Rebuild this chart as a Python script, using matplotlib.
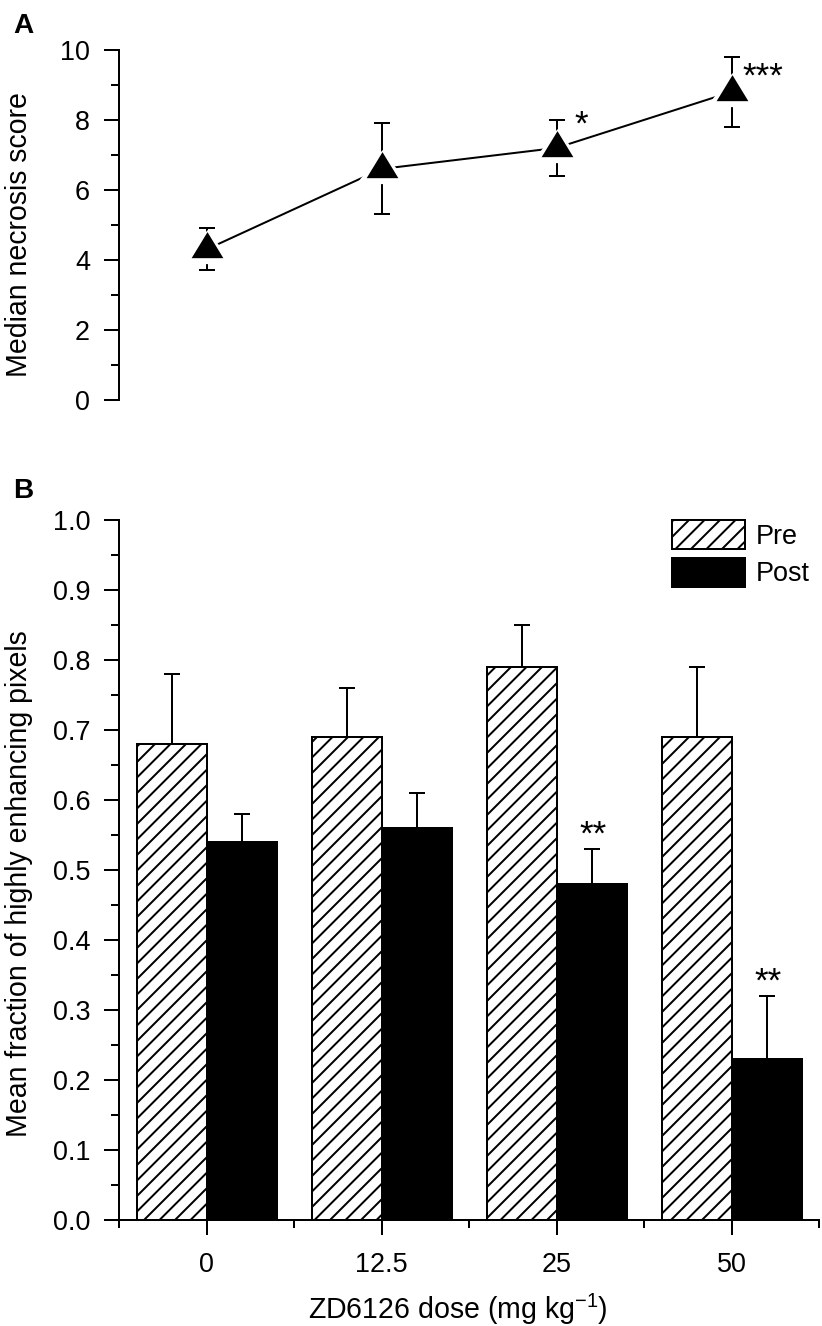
import numpy as np
import matplotlib.pyplot as plt
from matplotlib.ticker import MultipleLocator, FixedLocator, FormatStrFormatter

DPI = 93


def px(v):
    # pixels -> points at the chosen dpi
    return v * 72 / DPI


plt.rcParams['font.family'] = 'Liberation Sans'
plt.rcParams['mathtext.fontset'] = 'custom'
plt.rcParams['mathtext.rm'] = 'Liberation Sans'
plt.rcParams['mathtext.it'] = 'Liberation Sans:italic'
plt.rcParams['hatch.linewidth'] = px(2)

# data
doses = ['0', '12.5', '25', '50']

necrosis_median = [4.3, 6.6, 7.2, 8.8]
necrosis_low = [3.7, 5.3, 6.4, 7.8]
necrosis_high = [4.9, 7.9, 8.0, 9.8]

pre_mean = [0.68, 0.69, 0.79, 0.69]
pre_err = [0.10, 0.07, 0.06, 0.10]
post_mean = [0.54, 0.56, 0.48, 0.23]
post_err = [0.04, 0.05, 0.05, 0.09]

x = np.arange(len(doses))
lw = px(2)
fs = px(27)
lab_fs = px(28.5)
star_fs = px(35)
cap = px(8.3)

fig = plt.figure(figsize=(822.1 / DPI, 1326.1 / DPI), dpi=DPI)
axA = fig.add_axes([119 / 822, 1 - 400 / 1326, 700 / 822, 350 / 1326])
axB = fig.add_axes([119 / 822, 106 / 1326, 700 / 822, 700 / 1326])

# ---- panel A: median necrosis score
med = np.array(necrosis_median)
yerr = [med - np.array(necrosis_low), np.array(necrosis_high) - med]
axA.plot(x, med, color='k', lw=lw, zorder=1)
axA.errorbar(x, med, yerr=yerr, fmt='none', ecolor='k', elinewidth=lw,
             capsize=cap, capthick=lw, zorder=1)

# triangle with its centroid on the data point, plus a white halo
tri = [(0, 2 / 3), (-0.61, -1 / 3), (0.61, -1 / 3)]
halo = [(0, 0.747), (-1.0, -0.563), (1.0, -0.563)]
axA.plot(x, med, ls='none', marker=halo, ms=px(52), mfc='white', mec='none',
         mew=0, zorder=2, clip_on=False)
axA.plot(x, med, ls='none', marker=tri, ms=px(34.7), mfc='k', mec='none',
         mew=0, zorder=3, clip_on=False)

axA.annotate('*', xy=(2, necrosis_high[2]), xytext=(px(24.7), px(-15)),
             textcoords='offset points', ha='center', va='baseline', fontsize=star_fs)
axA.annotate('***', xy=(3, necrosis_high[3]), xytext=(px(31.5), px(-29.5)),
             textcoords='offset points', ha='center', va='baseline', fontsize=star_fs)

axA.set_xlim(-0.5, 3.5)
axA.set_ylim(0, 10)
for s in ['top', 'right', 'bottom']:
    axA.spines[s].set_visible(False)
axA.spines['left'].set_linewidth(lw)
axA.tick_params(axis='x', bottom=False, labelbottom=False)
axA.yaxis.set_major_locator(MultipleLocator(2))
axA.yaxis.set_minor_locator(MultipleLocator(1))
axA.tick_params(axis='y', which='major', length=px(15), width=lw, pad=px(14), labelsize=fs)
axA.tick_params(axis='y', which='minor', length=px(8), width=lw)
axA.set_ylabel('Median necrosis score', fontsize=lab_fs)
axA.yaxis.set_label_coords(-0.123, 0.473)

# ---- panel B: fraction of highly enhancing pixels
w = 0.4
axB.bar(x - w / 2, pre_mean, w, facecolor='white', edgecolor='k', hatch='//',
        lw=lw, label='Pre', zorder=2)
axB.bar(x + w / 2, post_mean, w, facecolor='k', edgecolor='k', lw=lw,
        label='Post', zorder=2)
axB.errorbar(x - w / 2, pre_mean, yerr=[np.zeros(4), pre_err], fmt='none',
             ecolor='k', elinewidth=lw, capsize=cap, capthick=lw, zorder=1)
axB.errorbar(x + w / 2, post_mean, yerr=[np.zeros(4), post_err], fmt='none',
             ecolor='k', elinewidth=lw, capsize=cap, capthick=lw, zorder=1)

for i in [2, 3]:
    axB.annotate('**', xy=(i + w / 2, post_mean[i] + post_err[i]), xytext=(px(2), px(4)),
                 textcoords='offset points', ha='center', va='baseline', fontsize=star_fs)

axB.set_xlim(-0.5, 3.5)
axB.set_ylim(0, 1.0)
for s in ['top', 'right']:
    axB.spines[s].set_visible(False)
axB.spines['left'].set_linewidth(lw)
axB.spines['bottom'].set_linewidth(lw)
axB.yaxis.set_major_locator(MultipleLocator(0.1))
axB.yaxis.set_minor_locator(MultipleLocator(0.05))
axB.yaxis.set_major_formatter(FormatStrFormatter('%.1f'))
axB.set_xticks(x)
axB.set_xticklabels(doses)
axB.xaxis.set_minor_locator(FixedLocator(np.arange(-0.5, 4, 1)))
axB.tick_params(axis='y', which='major', length=px(15), width=lw, pad=px(14), labelsize=fs)
axB.tick_params(axis='x', which='major', length=px(15), width=lw, pad=px(17), labelsize=fs)
axB.tick_params(which='minor', length=px(8), width=lw)
axB.set_ylabel('Mean fraction of highly enhancing pixels', fontsize=lab_fs)
axB.yaxis.set_label_coords(-0.123, 0.4807)
axB.set_xlabel('ZD6126 dose (mg kg$^{-1}$)', fontsize=lab_fs)
axB.xaxis.set_label_coords(0.4836, -0.1028)

axB.legend(loc='upper left', bbox_to_anchor=(0.79, 1.0), frameon=False,
           fontsize=fs, handlelength=2.7, handleheight=1.28, handletextpad=0.4,
           labelspacing=0.3, borderpad=0, borderaxespad=0)

fig.text(13 / 822, 1 - 33 / 1326, 'A', fontsize=px(28), fontweight='bold', va='baseline')
fig.text(13 / 822, 1 - 498 / 1326, 'B', fontsize=px(28), fontweight='bold', va='baseline')

fig.savefig('out.png', dpi=DPI)
